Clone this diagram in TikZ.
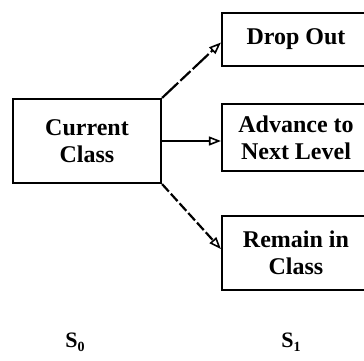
\documentclass[tikz,border=0pt]{standalone}
\usepackage{fontspec}
\setmainfont{Liberation Serif}
\usetikzlibrary{arrows.meta}
\begin{document}
\begin{tikzpicture}[x=1pt,y=-1pt,
  box/.style={draw, line width=2.2pt, align=center, inner sep=0pt,
    font=\bfseries\fontsize{24}{27}\selectfont, minimum width=148pt},
  conn/.style={line width=2.2pt, -{Triangle[open,length=12pt,width=9pt,line width=1.6pt]}},
  lbl/.style={inner sep=0pt, font=\bfseries\fontsize{22}{22}\selectfont}]
\clip (0,0) rectangle (364,360);
\fill[white] (0,0) rectangle (364,360);
\node[box, minimum height=84pt] (cur) at (87,141) {Current\\Class};
\node[box, minimum height=53pt] (drop) at (296,39.5) {Drop Out};
\node[box, minimum height=67pt] (adv) at (296,137.5) {Advance to\\Next Level};
\node[box, minimum height=74pt] (rem) at (296,253) {Remain in\\Class};
\draw[conn, dash pattern=on 22pt off 3pt on 14pt off 3pt] (cur.north east) -- ([yshift=-3pt]drop.west);
\draw[conn] (cur.east) -- (cur.east -| adv.west);
\draw[conn, dash pattern=on 10pt off 3pt] (cur.south east) -- ([yshift=4pt]rem.west);
\node[lbl] (s0) at (75,342) {S\raisebox{-4pt}{\fontsize{14}{14}\selectfont 0}};
\node[lbl] (s1) at (291,342) {S\raisebox{-4pt}{\fontsize{14}{14}\selectfont 1}};
\end{tikzpicture}
\end{document}
